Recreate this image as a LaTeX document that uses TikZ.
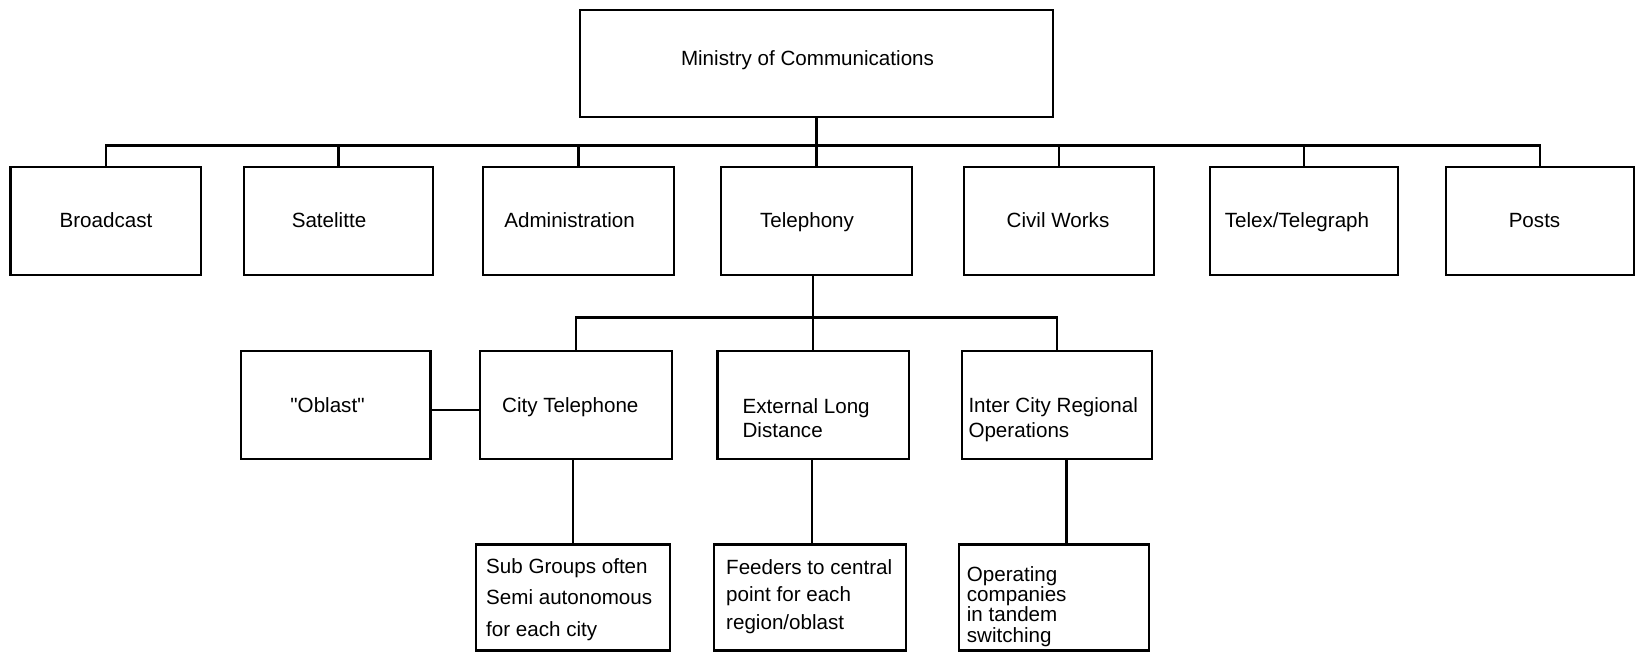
\documentclass[tikz,border=0pt]{standalone}
\usepackage{fontspec}
\setmainfont{Liberation Sans}[Ligatures=TeXOff]
\usetikzlibrary{calc}
\begin{document}
\begin{tikzpicture}[x=1pt,y=-1pt,
  box/.style={draw=black, line width=2.2pt, inner sep=0pt, rectangle},
  conn/.style={draw=black, line width=2.2pt},
  txt/.style={inner sep=0pt, font=\fontsize{20.6}{24}\selectfont},
  mtxt/.style={inner sep=0pt, anchor=north west, align=left, font=\fontsize{20.6}{#1}\selectfont},
  ]
\useasboundingbox (0,0) rectangle (1636,654);
% boxes
\node[box, minimum width=473pt, minimum height=107pt] (min) at (816.5,63.5) {};
\node[box, minimum width=190.5pt, minimum height=108pt] (bc) at (105.75,221) {};
\node[box, minimum width=189pt, minimum height=108pt] (sat) at (338.5,221) {};
\node[box, minimum width=191pt, minimum height=108pt] (adm) at (578.5,221) {};
\node[box, minimum width=191pt, minimum height=108pt] (tel) at (816.5,221) {};
\node[box, minimum width=190pt, minimum height=108pt] (civ) at (1059,221) {};
\node[box, minimum width=188pt, minimum height=108pt] (tlx) at (1304,221) {};
\node[box, minimum width=188pt, minimum height=108pt] (pst) at (1540,221) {};
\node[box, minimum width=189.5pt, minimum height=108pt] (obl) at (335.75,405) {};
\node[box, minimum width=191.6pt, minimum height=108pt] (cty) at (575.8,405) {};
\node[box, minimum width=191.5pt, minimum height=108pt] (ext) at (813.25,405) {};
\node[box, minimum width=190pt, minimum height=108pt] (int) at (1057,405) {};
\node[box, minimum width=194pt, minimum height=106pt] (sub) at (573,597.5) {};
\node[box, minimum width=192pt, minimum height=106pt] (fee) at (810,597.5) {};
\node[box, minimum width=190pt, minimum height=106pt] (opr) at (1054,597.5) {};
% texts
\node[txt, anchor=base] (min-t) at (807.5,65.4) {Ministry of Communications};
\node[txt, anchor=base] (bc-t) at (106,227) {Broadcast};
\node[txt, anchor=base] (sat-t) at (329,227) {Satelitte};
\node[txt, anchor=base] (adm-t) at (569.6,227) {Administration};
\node[txt, anchor=base] (tel-t) at (807,227) {Telephony};
\node[txt, anchor=base] (civ-t) at (1058,227) {Civil Works};
\node[txt, anchor=base] (tlx-t) at (1297,227) {Telex/Telegraph};
\node[txt, anchor=base] (pst-t) at (1534.5,227) {Posts};
\node[txt, anchor=base] (obl-t) at (327.5,412.7) {"Oblast"};
\node[txt, anchor=base] (cty-t) at (570.3,412.7) {City Telephone};
\node[mtxt=24] (ext-t) at (742.4,397.3) {\rule{0pt}{16pt}External Long\\Distance};
\node[mtxt=24.5] (int-t) at (968.3,396.5) {\rule{0pt}{16pt}Inter City Regional\\Operations};
\node[mtxt=31.4] (sub-t) at (486,557.3) {\rule{0pt}{16pt}Sub Groups often\\Semi autonomous\\for each city};
\node[mtxt=27.6] (fee-t) at (726,557.8) {\rule{0pt}{16pt}Feeders to central\\point for each\\region/oblast};
\node[mtxt=20.4] (opr-t) at (966.7,564.8) {\rule{0pt}{16pt}Operating\\companies\\in tandem\\switching};
% connectors
\coordinate (bus) at (0,145.5);
\coordinate (bus2) at (0,317.5);
\draw[conn] (min.south) -- (min.south |- bus);
\draw[conn] (bc.north) |- (pst.north |- bus) -- (pst.north);
\foreach \n in {sat,adm,tel,civ,tlx}{
  \draw[conn] (\n.north) -- (\n.north |- bus);
}
\draw[conn] (tel.south -| ext.north) -- (ext.north);
\draw[conn] (cty.north) |- (int.north |- bus2) -- (int.north);
\draw[conn] ([yshift=-5pt]obl.east) -- ([yshift=-5pt]cty.west);
\draw[conn] (cty.south -| sub.north) -- (sub.north);
\draw[conn] ([xshift=2pt]fee.north |- ext.south) -- ([xshift=2pt]fee.north);
\draw[conn] ([xshift=12.5pt]opr.north |- int.south) -- ([xshift=12.5pt]opr.north);
\end{tikzpicture}
\end{document}
